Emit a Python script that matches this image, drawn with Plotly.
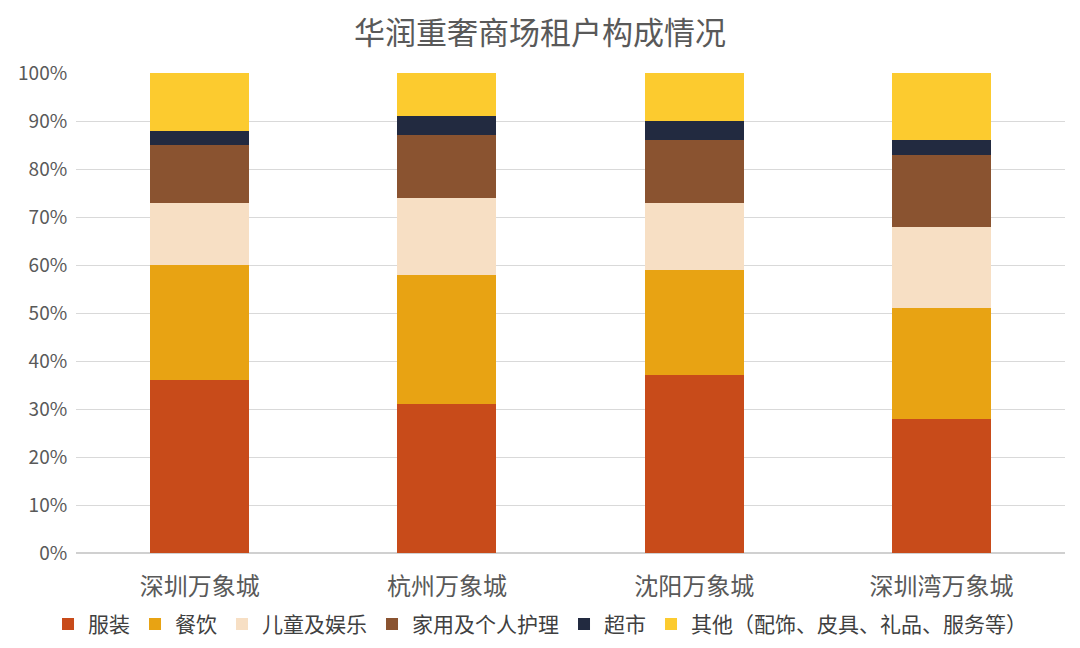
import plotly.graph_objects as go

categories = ["深圳万象城", "杭州万象城", "沈阳万象城", "深圳湾万象城"]
series_names = ["服装", "餐饮", "儿童及娱乐", "家用及个人护理", "超市", "其他（配饰、皮具、礼品、服务等）"]
clothing = [36, 31, 37, 28]
dining = [24, 27, 22, 23]
kids = [13, 16, 14, 17]
household = [12, 13, 13, 15]
supermarket = [3, 4, 4, 3]
others = [12, 9, 10, 14]
y_ticks = [0, 10, 20, 30, 40, 50, 60, 70, 80, 90, 100]
tick_labels = [f"{v}%" for v in y_ticks]

series_values = [clothing, dining, kids, household, supermarket, others]
colors = ["#C84B1A", "#E8A313", "#F7DFC4", "#8A5330", "#222A40", "#FCCB2F"]

fig = go.Figure()
for name, vals, col in zip(series_names, series_values, colors):
    fig.add_trace(go.Bar(
        x=categories, y=vals, name=name,
        marker=dict(color=col, line=dict(width=0)),
        width=0.4,
    ))

font_family = "Noto Sans CJK SC, Noto Sans, sans-serif"
fig.update_layout(
    barmode="stack",
    width=1080, height=648,
    paper_bgcolor="white", plot_bgcolor="white",
    margin=dict(l=68, r=23, t=65, b=103, autoexpand=False),
    title=dict(text="华润重奢商场租户构成情况", x=0.4926, xanchor="center",
               xref="container", y=0.961, yanchor="middle", yref="container",
               font=dict(family=font_family, size=31, color="#595959")),
    font=dict(family=font_family, color="#595959"),
    xaxis=dict(showgrid=False, showline=False, ticks="outside", ticklen=12,
               tickcolor="rgba(0,0,0,0)", automargin=False,
               tickfont=dict(size=24, color="#595959")),
    yaxis=dict(range=[0, 100], tickvals=y_ticks, ticktext=tick_labels,
               showgrid=True, gridcolor="#D9D9D9", gridwidth=1,
               zeroline=True, zerolinecolor="#D0D0D0", zerolinewidth=1.5,
               tickfont=dict(size=19, color="#595959"), ticks="outside", ticklen=4,
               tickcolor="rgba(0,0,0,0)", automargin=False),
    legend=dict(orientation="h", x=0.4926, xanchor="center", xref="container",
                y=0.049, yanchor="middle", yref="container",
                font=dict(size=21, color="#404040"), traceorder="normal",
                itemwidth=30, tracegroupgap=0),
    bargap=0.6,
)

fig.write_html("out.html")
